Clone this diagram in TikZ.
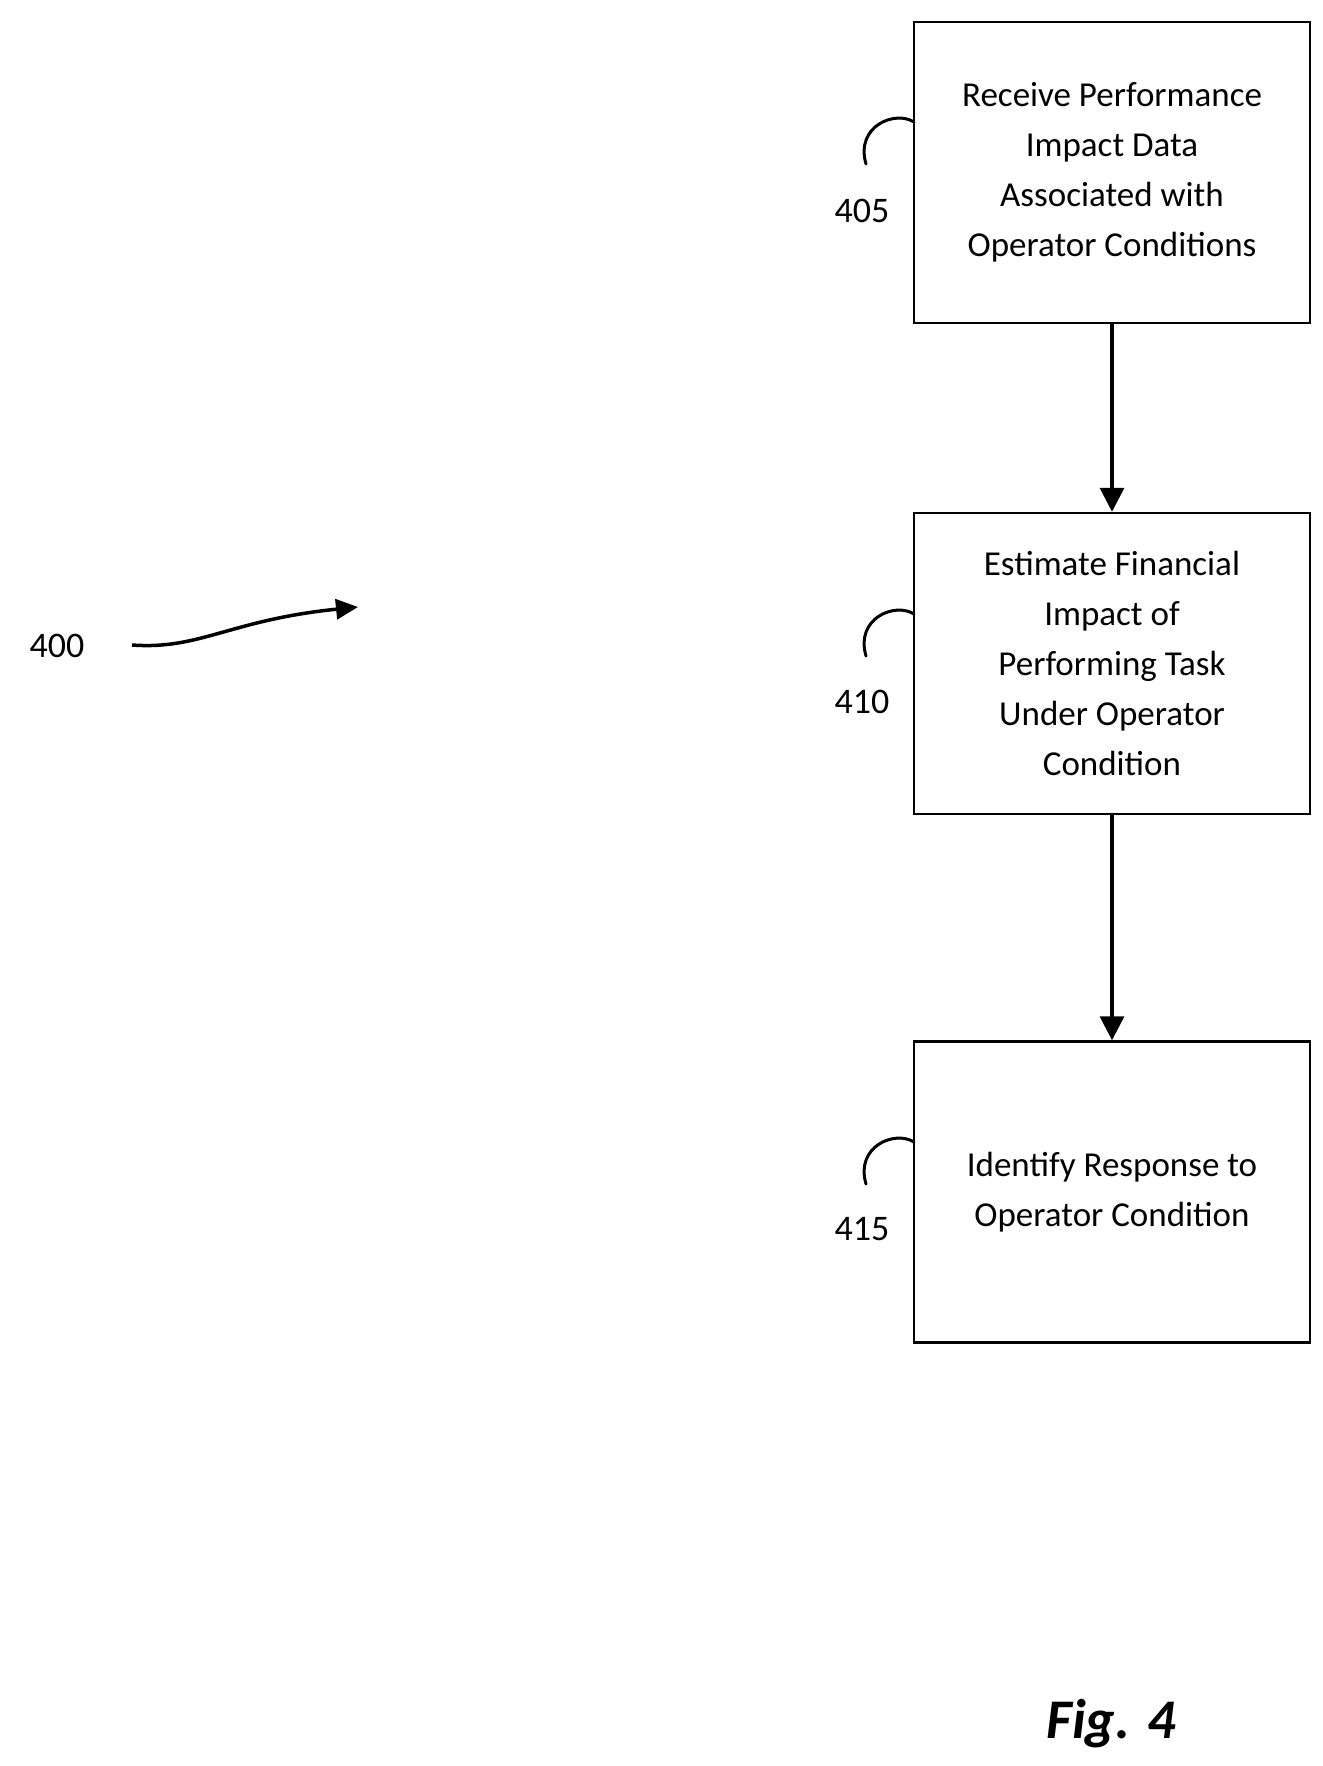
\documentclass[tikz,border=0pt]{standalone}
\usepackage{fontspec}
\setmainfont{Carlito}
\usetikzlibrary{arrows.meta}
\begin{document}
\begin{tikzpicture}[x=1pt,y=-1pt,
  box/.style={draw,line width=2.5pt,minimum width=396pt,minimum height=301pt,align=center,font=\fontsize{35}{50}\selectfont},
  lbl/.style={font=\fontsize{36}{40}\selectfont},
  arr/.style={line width=3.5pt,-{Triangle[length=24pt,width=24pt]}},
  hook/.style={line width=3pt,line cap=round}]
\useasboundingbox (0,0) rectangle (1322,1766);
\node[box] (b1) at (1112,172.5) {Receive Performance\\Impact Data\\Associated with\\Operator Conditions};
\node[box] (b2) at (1112,663.5) {Estimate Financial\\Impact of\\Performing Task\\Under Operator\\Condition};
\node[box] (b3) at (1112,1192) {Identify Response to\\Operator Condition};
\draw[arr] (b1) -- (b2);
\draw[arr] (b2) -- (b3);
\node[lbl] (l1) at (862,211) {405};
\node[lbl] (l2) at (862,702) {410};
\node[lbl] (l3) at (862,1229) {415};
\foreach \b/\y in {b1/122,b2/614,b3/1142}{
  \coordinate (h) at (914,\y);
  \draw[hook] (h) .. controls (895,\y-12) and (855,\y+4) .. (866,\y+42);
}
\node[lbl] (l0) at (57,646) {400};
\coordinate (a0) at (132,645);
\coordinate (a1) at (358,607);
\draw[line width=3.5pt,-{Triangle[length=22pt,width=20pt]}] (a0) .. controls (200,650) and (230,620) .. (a1);
\node[font=\fontsize{56}{60}\selectfont\bfseries\itshape] (fig) at (1111,1724) {Fig. 4};
\end{tikzpicture}
\end{document}
